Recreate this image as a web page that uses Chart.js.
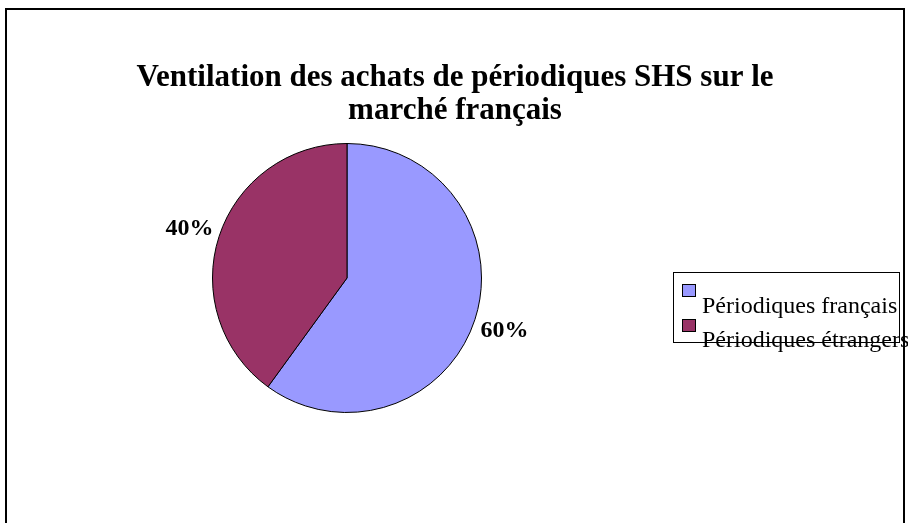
<!DOCTYPE html>
<html>
<head>
<meta charset="utf-8">
<script src="https://cdn.jsdelivr.net/npm/chart.js@4/dist/chart.umd.min.js"></script>
<style>
  html, body { margin: 0; padding: 0; background: #ffffff; }
  #wrap { position: absolute; left: 0; top: 0; width: 908px; height: 523px; }
</style>
</head>
<body>
<div id="wrap"><canvas id="c" width="908" height="523"></canvas></div>
<script>
// ---- data ----
const titleLines = ['Ventilation des achats de périodiques SHS sur le', 'marché français'];
const categories = ['Périodiques français', 'Périodiques étrangers'];
const shares = [60, 40];
const shareLabels = ['60%', '40%'];
const sliceColors = ['#9999FF', '#993366'];

const SERIF = '"Liberation Serif", "Times New Roman", Times, serif';

const decorPlugin = {
  id: 'decor',
  beforeDraw(chart) {
    const ctx = chart.ctx;
    ctx.save();
    ctx.fillStyle = '#ffffff';
    ctx.fillRect(0, 0, chart.width, chart.height);
    ctx.restore();
  },
  afterDraw(chart) {
    const ctx = chart.ctx;
    ctx.save();
    // outer frame
    ctx.strokeStyle = '#000000';
    ctx.lineWidth = 2;
    ctx.beginPath();
    ctx.moveTo(6, 530);
    ctx.lineTo(6, 9);
    ctx.lineTo(904, 9);
    ctx.lineTo(904, 530);
    ctx.stroke();

    // title
    ctx.fillStyle = '#000000';
    ctx.font = 'bold 31px ' + SERIF;
    ctx.textAlign = 'center';
    ctx.textBaseline = 'alphabetic';
    ctx.fillText(titleLines[0], 455, 86);
    ctx.fillText(titleLines[1], 455, 119);

    // slice labels
    const meta = chart.getDatasetMeta(0);
    ctx.font = 'bold 24px ' + SERIF;
    ctx.textAlign = 'center';
    ctx.textBaseline = 'middle';
    meta.data.forEach((arc, i) => {
      const p = arc.getProps(['x', 'y', 'startAngle', 'endAngle', 'outerRadius'], true);
      const mid = (p.startAngle + p.endAngle) / 2;
      const d = p.outerRadius + 31;
      ctx.fillText(shareLabels[i], p.x + Math.cos(mid) * d, p.y + Math.sin(mid) * d + 2);
    });

    // legend
    ctx.lineWidth = 1;
    ctx.strokeStyle = '#000000';
    ctx.strokeRect(673.5, 272.5, 226, 70);
    ctx.font = '24px ' + SERIF;
    ctx.textAlign = 'left';
    ctx.textBaseline = 'alphabetic';
    categories.forEach((lab, i) => {
      const sy = 284 + i * 35;
      ctx.fillStyle = sliceColors[i];
      ctx.fillRect(682, sy, 14, 13);
      ctx.strokeRect(682.5, sy + 0.5, 13, 12);
      ctx.fillStyle = '#000000';
      ctx.fillText(lab, 702, 313 + i * 34);
    });
    ctx.restore();
  }
};

new Chart(document.getElementById('c'), {
  type: 'pie',
  data: {
    labels: categories,
    datasets: [{
      data: shares,
      backgroundColor: sliceColors,
      borderColor: '#000000',
      borderWidth: 1
    }]
  },
  options: {
    responsive: false,
    animation: false,
    events: [],
    layout: { padding: { left: 212, right: 426, top: 143, bottom: 110 } },
    plugins: {
      legend: { display: false },
      title: { display: false },
      tooltip: { enabled: false }
    }
  },
  plugins: [decorPlugin]
});
</script>
</body>
</html>
